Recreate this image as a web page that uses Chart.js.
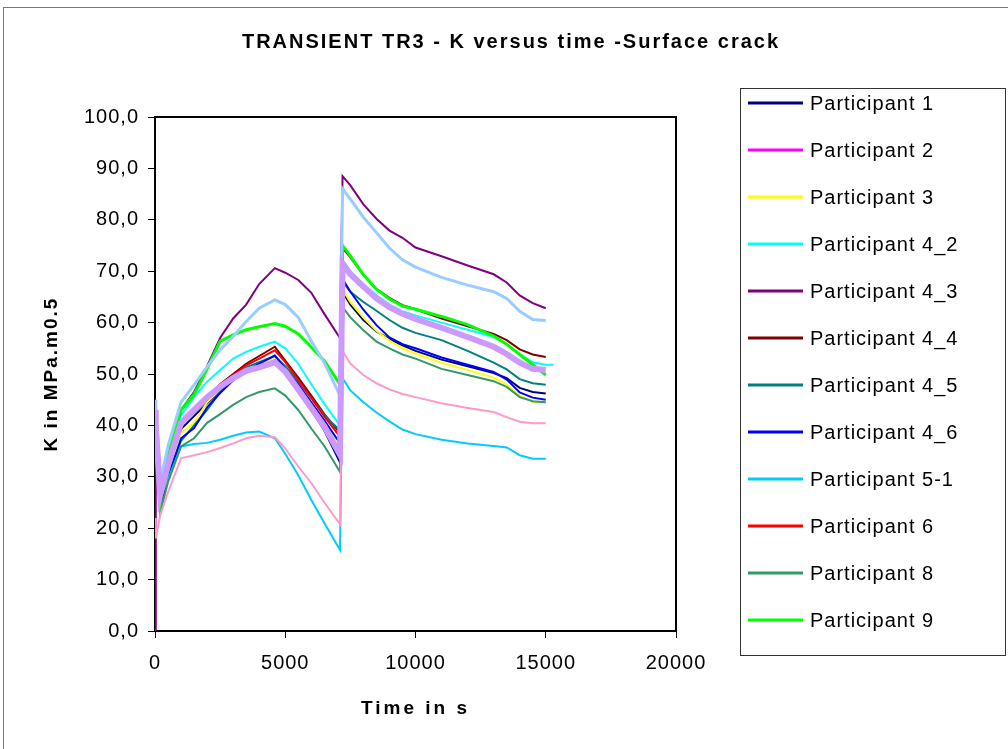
<!DOCTYPE html>
<html>
<head>
<meta charset="utf-8">
<title>TRANSIENT TR3 - K versus time -Surface crack</title>
<script src="https://cdn.jsdelivr.net/npm/chart.js@4"></script>
<style>
  body { margin: 0; background: #fff; }
  #wrap { width: 1008px; height: 749px; }
</style>
</head>
<body>
<div id="wrap"><canvas id="kChart" width="1008" height="749"></canvas></div>
<script>
// Time axis shared by every series (s)
const times = [0, 30, 200, 500, 1000, 1500, 2000, 2500, 3000, 3500, 4000, 4600, 5000, 5500, 6000, 6500, 7100,
  7200, 7500, 8000, 8500, 9000, 9500, 10000, 11000, 12000, 13000, 13500, 14000, 14500, 15000, 15300];

// K values (MPa.m0.5)
const p1 = [38, 36, 25, 30, 39.3, 41.8, 44.3, 46.7, 48.8, 50.5, 51.5, 52.6, 50, 46.5, 43, 39, 32.8,
  66, 63.5, 60.5, 58.3, 56.8, 55.6, 54.5, 52.8, 51.5, 50.2, 49.2, 47.3, 46.5, 46.2, null];
const p2 = [];
const p3 = [37, 35, 25, 31, 38.5, 40.5, 44.5, 47, 49, 50.8, 52, 53, 50.5, 47.5, 44.5, 40.8, 35.5,
  66.5, 64, 61, 58.4, 56.5, 55, 54, 52.2, 50.8, 49.3, 48, 45.8, 44.6, 44.4, null];
const p4_2 = [40, 38, 27, 33, 42, 45.5, 48.5, 50.8, 53, 54.3, 55.3, 56.3, 55, 52, 48, 44.2, 40,
  72.2, 70, 67.5, 65.3, 63.5, 62.2, 61.4, 60, 58.6, 57.2, 55.8, 53.8, 52.3, 51.8, 51.8];
const p4_3 = [0, 42, 27, 33, 43, 46.5, 51.5, 57, 60.8, 63.5, 67.5, 70.6, 69.7, 68.3, 65.8, 61.7, 57,
  88.5, 86.7, 83, 80.2, 77.9, 76.5, 74.6, 72.9, 71.1, 69.4, 67.8, 65.3, 63.8, 62.8, null];
const p4_4 = [40, 38, 25, 31, 40.5, 43, 45.5, 48, 50, 52, 53.5, 55.3, 52.6, 49.3, 45.8, 42.2, 38.5,
  74.5, 72.7, 69.3, 66.5, 64.8, 63.4, 62.6, 60.8, 59.3, 57.8, 56.6, 54.8, 53.8, 53.3, null];
const p4_5 = [38, 36, 25, 30.5, 37, 40, 43, 46.5, 49.5, 51.3, 52.3, 53.5, 51.5, 48.5, 45.3, 42, 39,
  68, 66, 64, 62.3, 60.5, 59, 58, 56.6, 54.5, 52.2, 50.9, 49, 48.2, 47.9, null];
const p4_6 = [36, 34, 24.5, 29.5, 37.5, 39.5, 43.5, 46.3, 48.8, 50.6, 52, 53.6, 51, 48, 44.5, 41, 36.5,
  68.5, 66, 62.5, 59.5, 57.1, 55.8, 55, 53.2, 51.8, 50.4, 48.9, 46.4, 45.4, 45, null];
const p5_1 = [40, 38, 26, 29.5, 35.9, 36.4, 36.6, 37.2, 38, 38.6, 38.8, 37.5, 34.5, 30.3, 25.5, 21, 15.8,
  49.2, 46.8, 44.5, 42.5, 40.8, 39.2, 38.3, 37.2, 36.5, 36, 35.7, 34.2, 33.5, 33.5, null];
const p6 = [38, 36, 26, 31.5, 40.3, 42.5, 45, 47.5, 49.7, 51.7, 53, 54.6, 52.3, 48.8, 45.3, 41.7, 37.8];
const p8 = [36, 34, 23, 29, 35.9, 37.5, 40.5, 42.2, 44, 45.5, 46.5, 47.2, 45.8, 43, 39.4, 36, 31,
  63, 61, 58.5, 56.3, 55, 53.8, 53, 51, 49.8, 48.6, 47.5, 45.5, 44.7, 44.5, null];
const p9 = [43, 41, 25, 34.5, 43, 46, 51, 56.4, 57.6, 58.6, 59.2, 59.8, 59.3, 57.8, 55.2, 52.6, 48,
  75, 73, 69.3, 66.5, 64.6, 63.2, 62.6, 61.2, 59.6, 57.4, 55.8, 53.8, 51.8, 49.8, null];
// series plotted but not listed in the legend
const extraA = [45, 44, 29, 36, 44.5, 47.9, 51.4, 54.7, 57.3, 60.2, 62.8, 64.4, 63.5, 61, 56.4, 52.2, 45.8,
  86, 84, 80.5, 77.5, 74.5, 72.2, 70.8, 68.8, 67.3, 66, 64.7, 62.2, 60.6, 60.4, null];
const extraB = [22, 18, 22.5, 27, 33.6, 34.2, 34.8, 35.6, 36.5, 37.5, 38, 37.7, 35.5, 32, 28.8, 25, 20.8,
  54.5, 52, 49.8, 48.2, 47, 46.1, 45.5, 44.3, 43.4, 42.6, 41.6, 40.7, 40.4, 40.4, null];
const extraC = [43, 40, 26.5, 32.3, 40.5, 43, 45.5, 47.5, 49.2, 50.6, 51.3, 52.3, 50.5, 47, 43.4, 39.8, 34.3,
  71.5, 69.4, 67, 64.7, 63, 61.7, 60.7, 59, 57.2, 55.3, 53.9, 52.2, 51, 50.8, null];

const seriesNames = ["Participant 1", "Participant 2", "Participant 3", "Participant 4_2", "Participant 4_3",
  "Participant 4_4", "Participant 4_5", "Participant 4_6", "Participant 5-1", "Participant 6",
  "Participant 8", "Participant 9", "Series 13", "Series 14", "Series 15"];
const seriesValues = [p1, p2, p3, p4_2, p4_3, p4_4, p4_5, p4_6, p5_1, p6, p8, p9, extraA, extraB, extraC];
const legendCount = 12;

const yTicks = [0, 10, 20, 30, 40, 50, 60, 70, 80, 90, 100];
const xTicks = [0, 5000, 10000, 15000, 20000];

// styles
const seriesColors = ["#000080", "#FF00FF", "#FFFF00", "#00FFFF", "#800080", "#800000", "#008080",
  "#0000FF", "#00CCFF", "#FF0000", "#339966", "#00FF00", "#99CCFF", "#FF99CC", "#CC99FF"];
const seriesWidths = [2, 2, 2, 2, 2, 2, 2, 2, 2, 2, 2, 3, 3, 2, 6];
const FONT = "'Liberation Sans', Arial, sans-serif";

function toPoints(values) {
  return times.map((t, i) => ({ x: t, y: values[i] === undefined ? null : values[i] }));
}

const datasets = seriesValues.map((vals, i) => ({
  label: seriesNames[i],
  data: toPoints(vals),
  borderColor: seriesColors[i],
  backgroundColor: seriesColors[i],
  borderWidth: seriesWidths[i],
  pointRadius: 0,
  tension: 0,
  // later series on top, like the original workbook
  order: seriesValues.length - i,
}));

// Frame, plot box, titles and legend
const decorPlugin = {
  id: "decor",
  beforeDraw(chart) {
    const ctx = chart.ctx;
    ctx.save();
    ctx.fillStyle = "#fff";
    ctx.fillRect(0, 0, chart.width, chart.height);
    ctx.strokeStyle = "#777";
    ctx.lineWidth = 1;
    ctx.strokeRect(3.5, 7.5, chart.width + 10, chart.height + 10);
    ctx.restore();
    ctx.letterSpacing = "1px";
  },
  beforeDatasetsDraw(chart) {
    const { ctx, chartArea } = chart;
    ctx.save();
    ctx.strokeStyle = "#000";
    ctx.lineWidth = 2;
    ctx.strokeRect(chartArea.left, chartArea.top, chartArea.right - chartArea.left, chartArea.bottom - chartArea.top);
    ctx.restore();
  },
  afterDraw(chart) {
    const { ctx, chartArea } = chart;
    ctx.save();
    ctx.fillStyle = "#000";

    // chart title
    ctx.letterSpacing = "2px";
    ctx.font = "bold 20px " + FONT;
    ctx.textAlign = "center";
    ctx.textBaseline = "middle";
    ctx.fillText("TRANSIENT TR3 - K versus time -Surface crack", 511, 42);

    // axis titles
    ctx.font = "bold 19px " + FONT;
    ctx.letterSpacing = "3px";
    ctx.fillText("Time in s", (chartArea.left + chartArea.right) / 2, 709);
    ctx.letterSpacing = "2px";
    ctx.save();
    ctx.translate(52, (chartArea.top + chartArea.bottom) / 2);
    ctx.rotate(-Math.PI / 2);
    ctx.fillText("K in MPa.m0.5", 0, 0);
    ctx.restore();

    // legend box
    ctx.strokeStyle = "#333";
    ctx.lineWidth = 1;
    ctx.strokeRect(740.5, 88.5, 265, 567);
    ctx.letterSpacing = "1px";
    ctx.font = "20px " + FONT;
    ctx.textAlign = "left";
    for (let i = 0; i < legendCount; i++) {
      const ds = chart.data.datasets[i];
      const y = 103 + i * 47;
      ctx.strokeStyle = ds.borderColor;
      ctx.lineWidth = 3;
      ctx.beginPath();
      ctx.moveTo(748, y);
      ctx.lineTo(803, y);
      ctx.stroke();
      ctx.fillText(ds.label, 810, y + 1);
    }
    ctx.restore();
    ctx.letterSpacing = "0px";
  },
};

new Chart(document.getElementById("kChart"), {
  type: "line",
  data: { datasets: datasets },
  options: {
    responsive: false,
    animation: false,
    layout: { padding: { top: 117, right: 332, left: 0, bottom: 0 } },
    plugins: {
      legend: { display: false },
      title: { display: false },
      tooltip: { enabled: false },
    },
    scales: {
      x: {
        type: "linear",
        min: 0,
        max: 20000,
        afterBuildTicks: (scale) => {
          scale.ticks = xTicks.map((v) => ({ value: v }));
        },
        afterFit: (scale) => {
          scale.height = 118;
        },
        ticks: {
          color: "#000",
          font: { family: FONT, size: 20 },
          padding: 13,
          maxRotation: 0,
          callback: (v) => String(v),
        },
        grid: { drawOnChartArea: false, drawTicks: true, tickLength: 7, tickColor: "#000" },
        border: { display: false },
      },
      y: {
        type: "linear",
        min: 0,
        max: 100,
        afterBuildTicks: (scale) => {
          scale.ticks = yTicks.map((v) => ({ value: v }));
        },
        afterFit: (scale) => {
          scale.width = 155;
        },
        ticks: {
          color: "#000",
          font: { family: FONT, size: 20 },
          padding: 9,
          callback: (v) => v.toFixed(1).replace(".", ","),
        },
        grid: { drawOnChartArea: false, drawTicks: true, tickLength: 7, tickColor: "#000" },
        border: { display: false },
      },
    },
  },
  plugins: [decorPlugin],
});
</script>
</body>
</html>
